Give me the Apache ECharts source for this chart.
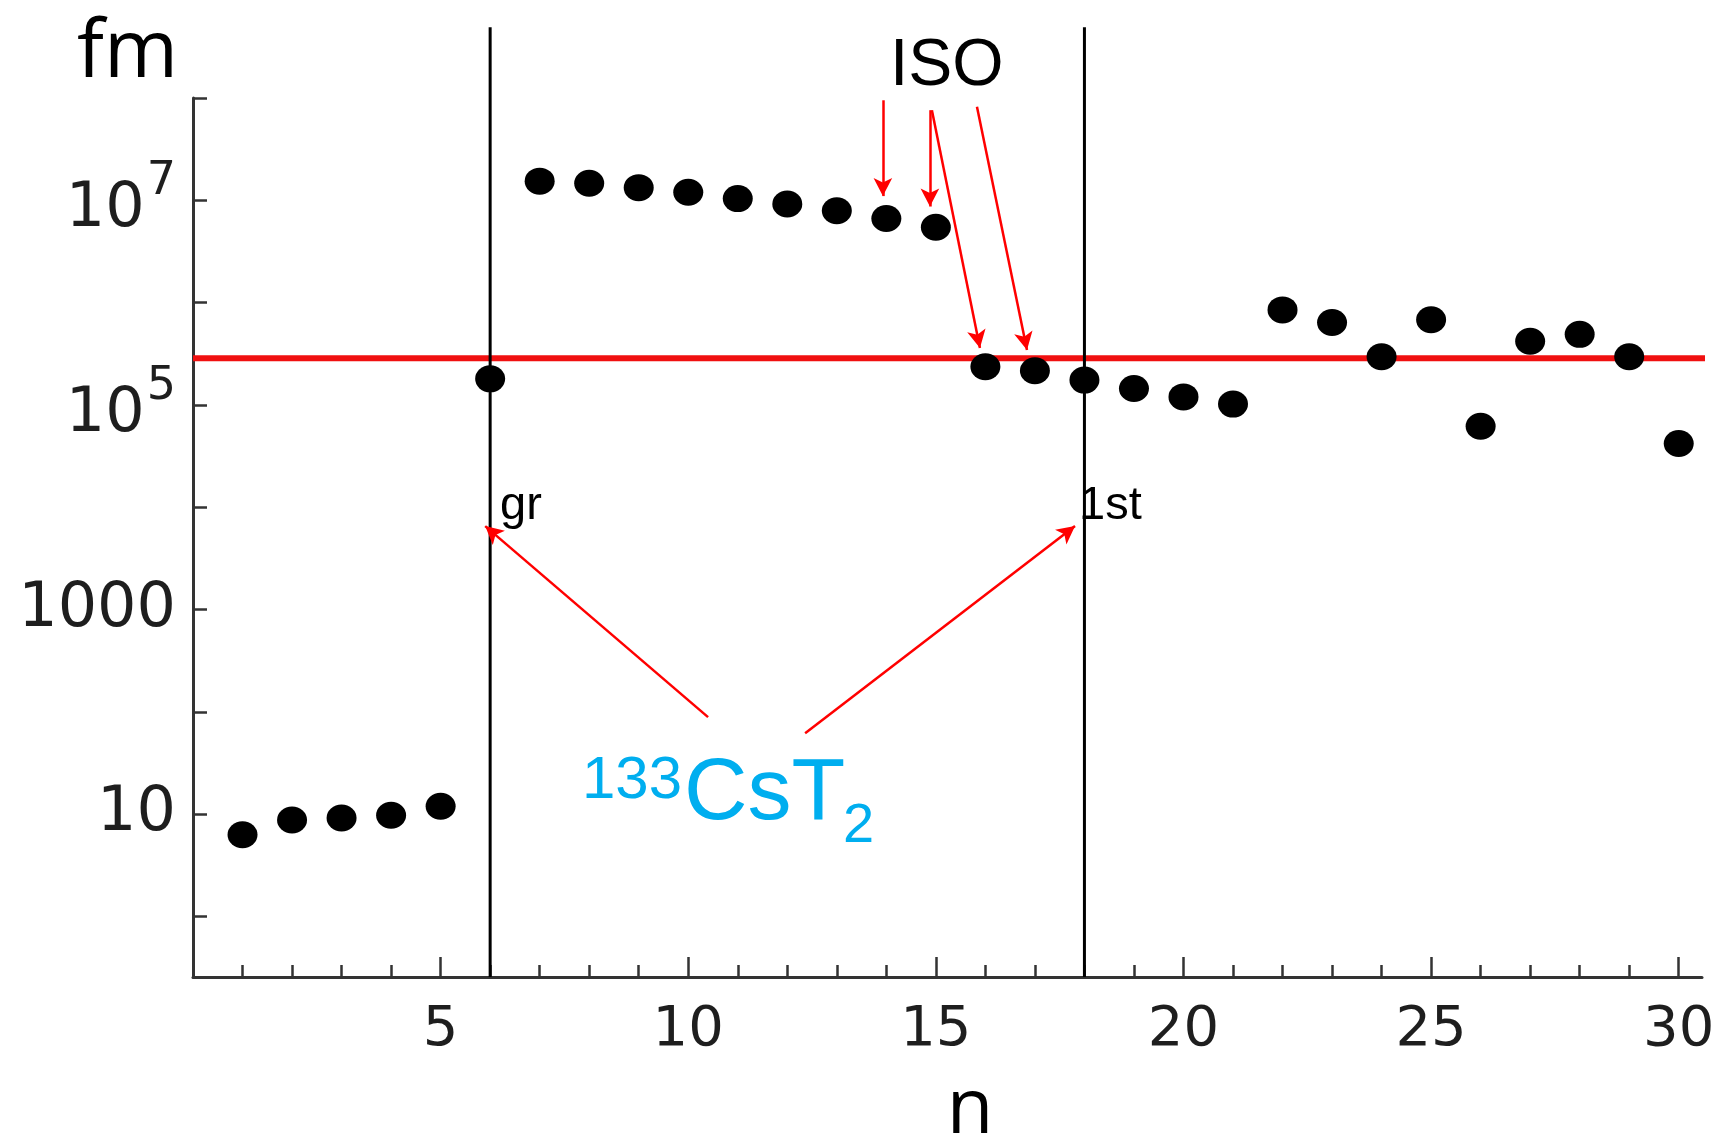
<!DOCTYPE html>
<html><head><meta charset="utf-8">
<script src="https://cdn.jsdelivr.net/npm/echarts@6/dist/echarts.min.js"></script>
<style>html,body{margin:0;padding:0;background:#fff}#c{width:1721px;height:1134px}</style>
</head><body><div id="c"></div>
<script>
// ---- data ----
const nValues = [1,2,3,4,5,6,7,8,9,10,11,12,13,14,15,16,17,18,19,20,21,22,23,24,25,26,27,28,29,30];
const fmValues = [6.3,8.8,9.2,9.8,12,1.8e5,1.54e7,1.47e7,1.33e7,1.2e7,1.04e7,9.2e6,7.9e6,6.65e6,5.45e6,
                  2.36e5,2.16e5,1.75e5,1.45e5,1.2e5,1.02e5,8.5e5,6.4e5,2.96e5,6.8e5,6.2e4,4.2e5,4.9e5,2.96e5,4.2e4];
const redLevel = 2.87e5;
const stateLines = [6, 18];          // gr, 1st
const xMinorTicks = [1,2,3,4,5,6,7,8,9,10,11,12,13,14,15,16,17,18,19,20,21,22,23,24,25,26,27,28,29,30];
const xMajorTicks = [5,10,15,20,25,30];
const yTicks = [1,10,100,1000,1e4,1e5,1e6,1e7,1e8];
const yLabels = [10,1000,1e5,1e7];
// annotation arrows: [x1,y1,x2,y2] in data space
const isoArrows = [
  [13.93, 9.5e7, 13.93, 1.1e7],
  [14.88, 7.6e7, 14.88, 8.7e6],
  [14.92, 7.6e7, 15.89, 3.6e5],
  [15.83, 8.2e7, 16.84, 3.45e5]
];
const cstArrows = [
  [10.40, 89, 5.90, 6550],
  [12.36, 62, 17.81, 6550]
];

const Y_MIN = 0.257, Y_MAX = 1e8, LINE_TOP = 4.9e8, X_MAX = 30.47, RED_END = 30.63;

const chart = echarts.init(document.getElementById('c'), null, {renderer:'canvas'});
const axisColor = '#333';
const labelColor = '#1e1e1e';

function arrowLines(list){
  return list.map(a => [{coord:[a[0],a[1]]},{coord:[a[2],a[3]]}]);
}

const option = {
  backgroundColor:'#fff',
  animation:false,
  grid:{left:193, right:19, top:98, bottom:157, containLabel:false, outerBoundsMode:'none'},
  xAxis:[
    {type:'value', min:0, max:X_MAX, position:'bottom',
     axisLine:{show:true, lineStyle:{color:axisColor, width:3}},
     axisTick:{show:true, inside:true, length:12, customValues:xMinorTicks, lineStyle:{color:axisColor, width:2.5}},
     axisLabel:{show:false}, splitLine:{show:false}},
    {type:'value', min:0, max:X_MAX, position:'bottom',
     axisLine:{show:false},
     axisTick:{show:true, inside:true, length:20, customValues:xMajorTicks, lineStyle:{color:axisColor, width:2.5}},
     axisLabel:{show:true, customValues:xMajorTicks, margin:25, color:labelColor, fontFamily:'DejaVu Sans', fontSize:56},
     splitLine:{show:false},
     name:'n', nameLocation:'middle', nameGap:96,
     nameTextStyle:{fontFamily:'Open Sans', fontSize:76, color:'#000', padding:[0,0,0,45]}}
  ],
  yAxis:{type:'log', min:Y_MIN, max:Y_MAX, logBase:10,
    axisLine:{show:true, lineStyle:{color:axisColor, width:3}},
    axisTick:{show:true, inside:true, length:14, customValues:yTicks, lineStyle:{color:axisColor, width:2.5}},
    axisLabel:{show:true, customValues:yLabels, margin:17, color:labelColor, fontFamily:'DejaVu Sans', fontSize:62,
      formatter:function(v){
        const e = Math.round(Math.log10(v));
        if (e >= 5) return '{b|10}{s|' + e + '}';
        return String(Math.round(v));
      },
      rich:{
        b:{fontFamily:'DejaVu Sans', fontSize:62, color:labelColor, verticalAlign:'bottom', padding:[20,0,0,0]},
        s:{fontFamily:'DejaVu Sans', fontSize:46, color:labelColor, verticalAlign:'top', padding:[0,0,0,2]}
      }},
    splitLine:{show:false},
    name:'fm', nameLocation:'end', nameGap:4,
    nameTextStyle:{fontFamily:'Open Sans', fontSize:80, color:'#000', align:'right', padding:[0,15,0,0]}
  },
  series:[
    {type:'line', name:'threshold', data:[[0,redLevel],[RED_END,redLevel]], showSymbol:false, symbol:'none', clip:false,
     lineStyle:{color:'#f01010', width:6}, z:2, silent:true},
    {type:'line', name:'gr', data:[[stateLines[0],Y_MIN],[stateLines[0],LINE_TOP]], symbol:'none', clip:false,
     lineStyle:{color:'#000', width:3}, z:3, silent:true},
    {type:'line', name:'1st', data:[[stateLines[1],Y_MIN],[stateLines[1],LINE_TOP]], symbol:'none', clip:false,
     lineStyle:{color:'#000', width:3}, z:3, silent:true},
    {type:'scatter', name:'fm', data:nValues.map((n,i)=>[n, fmValues[i]]), symbol:'circle', symbolSize:[30,27],
     itemStyle:{color:'#000', opacity:1}, z:5, silent:true},
    {type:'line', name:'arrows', data:[], clip:false, silent:true,
     markLine:{silent:true, animation:false, symbol:['none','arrow'], symbolSize:[14,18], label:{show:false},
       lineStyle:{color:'#f00', width:2.5, type:'solid', opacity:1}, emphasis:{disabled:true},
       data: arrowLines(isoArrows).concat(arrowLines(cstArrows))}}
  ],
  graphic:[
    {type:'text', left:890, top:34, style:{text:'ISO', font:'66px "Liberation Sans"', fill:'#000'}},
    {type:'text', x:500, y:506, style:{text:'gr', font:'47px "Liberation Sans"', fill:'#000', verticalAlign:'middle'}},
    {type:'text', x:1079, y:506, style:{text:'1st', font:'47px "Liberation Sans"', fill:'#000', verticalAlign:'middle'}},
    {type:'text', x:682, y:781, style:{text:'133', font:'60px "Liberation Sans"', fill:'#00aeef', verticalAlign:'middle', align:'right'}},
    {type:'text', x:684, y:795, style:{text:'CsT', font:'88px "Liberation Sans"', fill:'#00aeef', verticalAlign:'middle'}},
    {type:'text', x:843, y:827, style:{text:'2', font:'56px "Liberation Sans"', fill:'#00aeef', verticalAlign:'middle'}}
  ]
};
chart.setOption(option);
</script></body></html>
